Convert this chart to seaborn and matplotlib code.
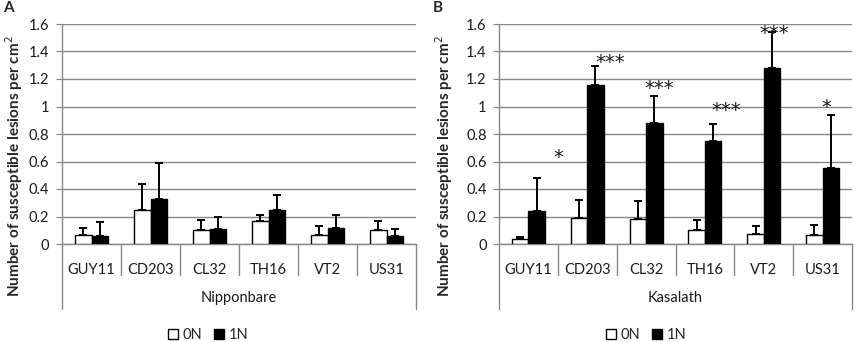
import numpy as np
import pandas as pd
import seaborn as sns
import matplotlib.pyplot as plt
from matplotlib.transforms import blended_transform_factory

strains = ['GUY11', 'CD203', 'CL32', 'TH16', 'VT2', 'US31']
treatments = ['0N', '1N']

# Nipponbare (panel A)
nip_0n = [0.063, 0.25, 0.10, 0.17, 0.067, 0.10]
nip_1n = [0.058, 0.33, 0.11, 0.25, 0.12, 0.058]
nip_0n_err = [0.12, 0.44, 0.176, 0.21, 0.13, 0.17]     # top of error bar
nip_1n_err = [0.157, 0.59, 0.195, 0.357, 0.21, 0.108]

# Kasalath (panel B)
kas_0n = [0.036, 0.19, 0.18, 0.10, 0.075, 0.068]
kas_1n = [0.24, 1.157, 0.88, 0.748, 1.28, 0.552]
kas_0n_err = [0.05, 0.32, 0.31, 0.174, 0.133, 0.138]
kas_1n_err = [0.48, 1.295, 1.077, 0.874, 1.54, 0.935]

# significance marks in panel B
kas_stars = ['*', '***', '***', '***', '***', '*']
kas_star_y = [0.63, 1.32, 1.13, 0.97, 1.53, 0.99]
kas_star_dx = [0.5, 0.39, 0.22, 0.37, 0.18, 0.07]

sns.set_style('white')
plt.rcParams['font.family'] = ['Lato', 'DejaVu Sans']

fig = plt.figure(figsize=(8.56, 3.42), dpi=100)
W, H = 856, 342
gray = '#868686'
txt = '#1a1a1a'


def panel(left, right, cultivar, v0, v1, e0, e1, letter, leg_x, letter_x):
    ax = fig.add_axes([left / W, 1 - 244 / H, (right - left) / W, 220 / H])
    df = pd.DataFrame({
        'strain': strains * 2,
        'N': ['0N'] * 6 + ['1N'] * 6,
        'value': v0 + v1,
    })
    sns.barplot(data=df, x='strain', y='value', hue='N', hue_order=treatments,
                palette={'0N': 'white', '1N': 'black'}, edgecolor='black',
                linewidth=1.0, width=0.56, errorbar=None, ax=ax, zorder=3)
    # one-sided error bars
    bars = [p for p in ax.patches if p.get_height() > 0]
    tops = e0 + e1
    for p, top in zip(bars, tops):
        xc = p.get_x() + p.get_width() / 2
        h = p.get_height()
        ax.errorbar(xc, h, yerr=[[0], [top - h]], fmt='none', ecolor='black',
                    elinewidth=1.4, capsize=3.2, capthick=1.4, zorder=4)
    ax.set_ylim(0, 1.6)
    ax.set_xlim(-0.5, 5.5)
    ax.set_yticks(np.arange(0, 1.61, 0.2))
    ax.set_yticklabels([f'{v:g}' for v in np.arange(0, 1.61, 0.2).round(1)])
    ax.yaxis.grid(True, color=gray, linewidth=1.0, zorder=0)
    ax.set_axisbelow(True)
    for s in ['top', 'right']:
        ax.spines[s].set_visible(False)
    ax.spines['left'].set_color(gray)
    ax.spines['bottom'].set_color(gray)
    ax.spines['left'].set_linewidth(1.0)
    ax.spines['bottom'].set_linewidth(1.0)
    ax.tick_params(axis='y', left=True, length=4, color=gray, labelsize=10.5,
                   pad=5, labelcolor=txt)
    ax.tick_params(axis='x', bottom=False, labelsize=10.5, pad=10,
                   labelcolor=txt)
    ax.set_xlabel('')
    ax.set_ylabel('')
    tr = blended_transform_factory(ax.transData, ax.transAxes)
    for i in range(7):
        xb = i - 0.5
        low = -0.295 if i in (0, 6) else -0.14
        ax.plot([xb, xb], [0, low], transform=tr, color=gray, lw=1.0,
                clip_on=False)
    ax.text(2.5, -0.245, cultivar, transform=tr, ha='center', va='center',
            fontsize=10.5, color=txt)
    sns.move_legend(ax, 'center', bbox_to_anchor=(leg_x, -0.415), ncol=2,
                    frameon=False, title=None, fontsize=10.5,
                    handlelength=0.7, handleheight=0.7, handletextpad=0.3,
                    columnspacing=0.8)
    fig.text(letter_x / W, 1 - 8 / H, letter, fontsize=11, fontweight='bold',
             ha='left', va='center')
    fig.text((letter_x + 11) / W, 1 - 166 / H,
             'Number of susceptible lesions per cm$^2$', rotation=90,
             fontsize=11, fontweight='bold', ha='center', va='center')
    return ax


axA = panel(62, 416, 'Nipponbare', nip_0n, nip_1n, nip_0n_err, nip_1n_err,
            'A', 0.412, 3)
axB = panel(499, 852, 'Kasalath', kas_0n, kas_1n, kas_0n_err, kas_1n_err,
            'B', 0.416, 433)

for i, (s, y, dx) in enumerate(zip(kas_stars, kas_star_y, kas_star_dx)):
    axB.text(i + dx, y, s, ha='center', va='center', fontsize=14,
             family='DejaVu Sans', color=txt, zorder=5)

fig.savefig('out.png', dpi=100)
